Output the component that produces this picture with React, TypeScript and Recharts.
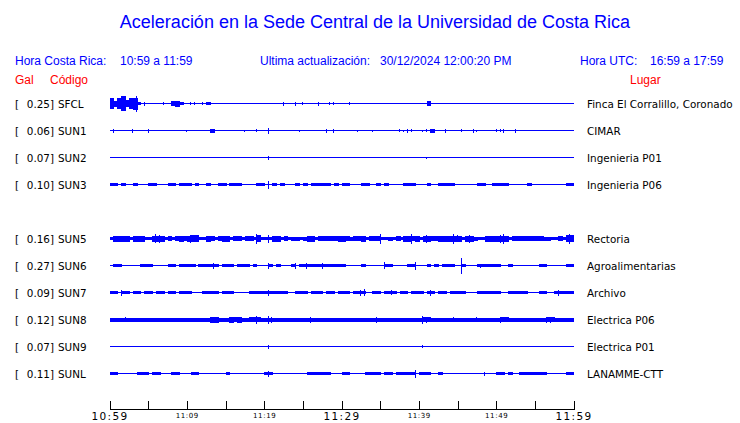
import { ComposedChart, Area, Bar, XAxis, YAxis } from 'recharts';

const BLUE = '#0000ff';
const RED = '#ff0000';

// station order, top to bottom; lane 4 (SUN4) is empty in this picture
const STATIONS = ['SFCL', 'SUN1', 'SUN2', 'SUN3', 'SUN5', 'SUN6', 'SUN7', 'SUN8', 'SUN9', 'SUNL'];
const LANES = [0, 1, 2, 3, 5, 6, 7, 8, 9, 10];
const PEAK_GAL = ['0.25', '0.06', '0.07', '0.10', '0.16', '0.27', '0.09', '0.12', '0.07', '0.11'];
const PLACES = [
  'Finca El Corralillo, Coronado', 'CIMAR', 'Ingenieria P01', 'Ingenieria P06', 'Rectoria',
  'Agroalimentarias', 'Archivo', 'Electrica P06', 'Electrica P01', 'LANAMME-CTT',
];

// minutes after 10:59
const TIME_TICKS = [0, 5, 10, 15, 20, 25, 30, 35, 40, 45, 50, 55, 60];
const TICK_LABELS = ['10:59', '', '11:09', '', '11:19', '', '11:29', '', '11:39', '', '11:49', '', '11:59'];
const BIG_LABELS = ['10:59', '11:29', '11:59'];

// envelope half-amplitude per 30 s window (relative units, 27 = one lane)
const SFCL_ENV = [
  5, 2.5, 5, 7, 3, 5, 5.5, 1, 0, 0, 0, 0, 0, 0, 0, 0, 2, 2.5, 1, 0,
  0, 0, 0, 0, 0, 1, 0, 0, 0, 0, 0, 0, 0, 0, 0, 0, 0, 0, 0, 0,
  0, 0, 0, 0, 0, 0, 0, 0, 0, 0, 0, 0, 0, 0, 0, 0, 0, 0, 0, 0,
  0, 0, 0, 0, 0, 0, 0, 0, 0, 0, 0, 0, 0, 0, 0, 0, 0, 0, 0, 0,
  0, 0, 1.7, 0, 0, 0, 0, 0, 0, 0, 0, 0, 0, 0, 0, 0, 0, 0, 0, 0,
  0, 0, 0, 0, 0, 0, 0, 0, 0, 0, 0, 0, 0, 0, 0, 0, 0, 0, 0, 0,
];
const SUN1_ENV = [
  0, 0, 0, 0, 0, 0, 0, 0, 0, 0, 0, 0, 0, 0, 0, 0, 0, 0, 0, 0,
  0, 0, 0, 0, 0, 0, 1.5, 0, 0, 0, 0, 0, 0, 0, 0, 0, 0, 0, 0, 0,
  0, 0, 0, 0, 0, 0, 0, 0, 0, 0, 0, 0, 0, 0, 0, 0, 0, 0, 0, 0,
  0, 0, 0, 0, 0, 0, 0, 0, 0, 0, 0, 0, 0, 0, 0, 0, 0, 0, 0, 0,
  0, 0, 0, 1.5, 0, 0, 0, 0, 0, 0, 0, 0, 0, 0, 0, 0, 0, 0, 0, 0,
  0, 0, 0, 0, 0, 0, 0, 0, 0, 0, 0, 0, 0, 0, 0, 0, 0, 0, 0, 0,
];
const SUN2_ENV = [
  0, 0, 0, 0, 0, 0, 0, 0, 0, 0, 0, 0, 0, 0, 0, 0, 0, 0, 0, 0,
  0, 0, 0, 0, 0, 0, 0, 0, 0, 0, 0, 0, 0, 0, 0, 0, 0, 0, 0, 0,
  0, 0, 0, 0, 0, 0, 0, 0, 0, 0, 0, 0, 0, 0, 0, 0, 0, 0, 0, 0,
  0, 0, 0, 0, 0, 0, 0, 0, 0, 0, 0, 0, 0, 0, 0, 0, 0, 0, 0, 0,
  0, 0, 0, 0, 0, 0, 0, 0, 0, 0, 0, 0, 0, 0, 0, 0, 0, 0, 0, 0,
  0, 0, 0, 0, 0, 0, 0, 0, 0, 0, 0, 0, 0, 0, 0, 0, 0, 0, 0, 0,
];
const SUN3_ENV = [
  1, 1, 0.4, 1, 0.4, 0.4, 1, 0.4, 0, 0.4, 1, 1, 0.4, 0, 0.4, 1, 0.7, 0, 1, 1,
  1, 0.4, 1, 0.4, 0, 1, 0.4, 0.4, 1, 1, 0, 1, 1, 1, 0.4, 0, 0.4, 0, 1, 1,
  0, 0, 1, 0.4, 1, 0.4, 0, 0.4, 1, 0.4, 1, 0.4, 1, 1, 1, 1, 1, 0, 1, 0.4,
  1, 1, 0, 0.4, 0.4, 1, 1, 0.4, 0, 1, 0, 1, 0.4, 0, 0.4, 0, 1, 1, 1, 0,
  0.4, 0, 1, 0, 0.4, 1, 1, 1, 1, 0.4, 0.4, 0.4, 0.4, 0.4, 0, 1, 1, 0.4, 0.4, 1,
  1, 1, 1, 0.4, 0.4, 0, 0.4, 0, 1, 0, 0.4, 0, 0.4, 0, 0.4, 0.4, 0, 0.4, 1, 1,
];
const SUN5_ENV = [
  0.7, 2.5, 2.5, 2.5, 2.5, 0.7, 2.5, 2.5, 2.5, 0.7, 0.7, 2.5, 2.5, 2.5, 0.7, 2, 0.7, 2, 2.5, 2,
  2.5, 3, 3, 0.7, 0.7, 2.5, 2, 0.7, 2, 2.5, 2.5, 0.7, 2, 2, 0.7, 2, 2, 0.7, 3, 0.7,
  0.7, 0.7, 2.5, 2.5, 0.7, 2, 0.7, 1.5, 1.5, 0.7, 1.5, 2.5, 2.5, 0.7, 2, 2, 2, 2, 2, 2.5,
  2.5, 2, 1.5, 2, 2, 2.5, 0.7, 2, 2, 2, 0.7, 0.7, 1.5, 0.7, 2, 0.7, 2.5, 2.5, 2, 2.5,
  0.7, 2.5, 2.5, 2, 2, 2.5, 2.5, 2.5, 2.5, 2.5, 2.5, 0.7, 2.5, 2.5, 1.5, 0.7, 0.7, 2.5, 2.5, 2.5,
  2.5, 2.5, 2.5, 0.7, 2, 2, 2, 2, 2, 2, 2, 2, 1.5, 1.5, 0.7, 0.7, 2, 0.7, 3, 3,
];
const SUN6_ENV = [
  0, 1, 1, 0, 0.4, 0.4, 0, 0.4, 1, 1, 1, 0, 0.4, 0.4, 0, 1, 1, 0.4, 1, 1,
  1, 1, 0, 1, 1, 1, 1, 1, 0, 1, 1, 1, 0, 1, 1, 1, 0, 1, 0.4, 0.4,
  0, 1.3, 0, 1, 0.4, 0.4, 0, 1.3, 0, 1, 1, 1.3, 1, 1, 1.3, 1.3, 1.3, 1, 1, 1,
  1, 0.4, 0.4, 0, 0, 1, 0, 0, 0.4, 0, 0.4, 1.3, 1.3, 0.4, 0, 0.4, 0.4, 1, 1, 0.4,
  0, 0, 1, 0, 1, 0, 1, 1, 1, 0, 0, 0.7, 0, 0, 0, 1.3, 1.3, 1.3, 1.3, 1,
  1, 0, 0.4, 1, 0, 0.4, 0, 0.4, 0.4, 0.4, 0, 1, 1, 0.4, 0, 0.4, 0.4, 0, 1, 1,
];
const SUN7_ENV = [
  1, 1, 0, 1.3, 1.3, 0, 1, 1, 0, 1, 1, 0.4, 1, 1, 0, 1, 1, 0.4, 1, 1,
  1, 0.4, 0, 0.4, 1, 1, 1, 1, 0, 1.3, 1.3, 1.3, 0.4, 0.4, 0.4, 0, 1, 1, 1, 1,
  1.3, 1.3, 1, 1, 1, 1, 0, 0.4, 1, 1, 1, 0, 1, 1, 1, 0, 1, 1, 0, 1,
  1, 1, 0.4, 1, 1, 1, 0, 0, 1, 1, 0.4, 1, 1, 1, 0.4, 1, 1, 0.4, 1, 1,
  1, 0, 1, 1, 0.4, 1, 1, 0.4, 1, 1, 1, 1, 0.4, 0.4, 0.4, 1, 1, 1, 1, 1,
  1, 0.4, 0, 1, 1, 1, 1, 1, 0, 0.4, 0, 1, 1, 0.4, 0, 1, 1, 1, 1, 1,
];
const SUN8_ENV = [
  1.5, 1.5, 1.5, 1.5, 1.5, 1.5, 1.5, 1.5, 1.5, 1.5, 1.5, 1.5, 1.5, 1.5, 1.5, 1.5, 1.5, 1.5, 1.5, 1.5,
  1.5, 1.5, 1.5, 1.5, 1.5, 1.5, 2.5, 2.5, 1.5, 1.5, 1.5, 2.5, 2, 2.5, 1.5, 1.5, 2, 2, 2, 1.5,
  1.5, 1.5, 1.5, 1.5, 1.5, 1.5, 1.5, 1.5, 1.5, 1.5, 1.5, 1.5, 1.5, 1.5, 1.5, 1.5, 1.5, 1.5, 1.5, 1.5,
  1.5, 1.5, 1.5, 1.5, 1.5, 1.5, 1.5, 1.5, 1.5, 1.5, 1.5, 1.5, 1.5, 1.5, 1.5, 1.5, 1.5, 1.5, 1.5, 1.5,
  1.5, 2, 2, 1.5, 1.5, 1.5, 1.5, 1.5, 1.5, 1.5, 1.5, 1.5, 1.5, 1.5, 1.5, 1.5, 1.5, 1.5, 1.5, 1.5,
  1.5, 2, 2, 1.5, 1.5, 1.5, 1.5, 1.5, 1.5, 1.5, 1.5, 1.5, 1.5, 2, 2, 1.5, 1.5, 1.5, 1.5, 1.5,
];
const SUN9_ENV = [
  0, 0, 0, 0, 0, 0, 0, 0, 0, 0, 0, 0, 0, 0, 0, 0, 0, 0, 0, 0,
  0, 0, 0, 0, 0, 0, 0, 0, 0, 0, 0, 0, 0, 0, 0, 0, 0, 0, 0, 0,
  0, 0, 0, 0, 0, 0, 0, 0, 0, 0, 0, 0, 0, 0, 0, 0, 0, 0, 0, 0,
  0, 0, 0, 0, 0, 0, 0, 0, 0, 0, 0, 0, 0, 0, 0, 0, 0, 0, 0, 0,
  0, 0, 0, 0, 0, 0, 0, 0, 0, 0, 0, 0, 0, 0, 0, 0, 0, 0, 0, 0,
  0, 0, 0, 0, 0, 0, 0, 0, 0, 0, 0, 0, 0, 0, 0, 0, 0, 0, 0, 0,
];
const SUNL_ENV = [
  1, 1, 0, 0, 0.4, 0, 0.4, 1, 1, 1, 0.4, 1, 1, 0.4, 0, 0, 1, 1, 0.4, 0.4,
  0, 1, 1, 0, 0.4, 0.4, 0.4, 0.4, 0.4, 0, 1, 0, 0, 0.4, 0.4, 0, 0, 0.4, 0, 0.4,
  1, 1, 0.4, 0.4, 0.4, 0.4, 0, 0, 0.4, 0, 0, 1, 1, 1, 1, 1, 1, 0, 0, 0,
  1, 1, 0, 0.4, 0, 0.4, 1, 1, 1, 1, 0, 1, 1, 0, 1, 1, 1, 1, 1, 0,
  1, 1, 1, 0, 0, 1, 0.4, 0.4, 0.4, 0.4, 0, 0.4, 0.4, 0, 0.4, 0.4, 0, 0, 0.4, 0,
  1.3, 1.3, 0, 1, 0, 0.4, 1, 1, 1, 1, 1, 1, 1, 0, 0.4, 0, 0.4, 0, 1, 1,
];

// isolated spikes: [minute, half-amplitude]
const SFCL_SPIKES = [[3.5, 8], [4.5, 2], [7, 1.5], [10.5, 1.5], [11, 1.5], [12, 1.5], [22.5, 2], [24, 2], [25, 1.5], [27, 2], [28.5, 1.5], [29, 1.5], [31, 1.5]];
const SUN1_SPIKES = [[0.5, 2], [3, 2], [5, 2], [10, 1], [17.5, 1], [19, 1.5], [20.5, 3], [24.5, 1], [28, 2], [29, 2], [32, 1], [34, 1], [37.5, 1.5], [38, 1], [38.5, 2], [39, 1.5], [40.5, 1], [41, 1.5], [43.5, 2], [45.5, 1.5], [47, 2], [47.5, 1], [50, 1.5], [50.5, 1.5], [51, 2], [52.5, 2]];
const SUN2_SPIKES = [[20.5, 2], [41, 1]];
const SUN3_SPIKES = [[20.5, 4]];
const SUN5_SPIKES = [[4.5, 3], [6, 4.5], [6.5, 4], [10.5, 4], [11, 3.5], [19, 5], [20.5, 4], [26, 3], [35, 5], [39, 5], [41, 4], [44.5, 5], [45, 3.5], [46.5, 4], [50.5, 4], [51, 5], [59.5, 5]];
const SUN6_SPIKES = [[13.5, 3], [20.5, 3], [24, 3], [25.5, 3], [27.5, 3], [35.5, 3.5], [39.5, 4], [45.5, 8], [48, 2]];
const SUN7_SPIKES = [[1.5, 3], [20.5, 3], [32.5, 3], [33, 3.5], [36.5, 2.5], [41.5, 3], [58, 3]];
const SUN8_SPIKES = [[2, 2.5], [19, 4], [20.5, 4], [21, 3], [26, 3], [34.5, 3], [40.5, 4], [41, 3], [44.5, 2.5], [47.5, 2.5], [50.5, 3], [51, 2.5], [56.5, 3], [57, 3]];
const SUN9_SPIKES = [[20.5, 2], [40.5, 1.5]];
const SUNL_SPIKES = [[20.5, 3], [39.5, 4], [48.5, 2]];

const ENVELOPES = [SFCL_ENV, SUN1_ENV, SUN2_ENV, SUN3_ENV, SUN5_ENV, SUN6_ENV, SUN7_ENV, SUN8_ENV, SUN9_ENV, SUNL_ENV];
const SPIKES = [SFCL_SPIKES, SUN1_SPIKES, SUN2_SPIKES, SUN3_SPIKES, SUN5_SPIKES, SUN6_SPIKES, SUN7_SPIKES, SUN8_SPIKES, SUN9_SPIKES, SUNL_SPIKES];

const UNITS = 27;
const STEP = 0.5;

const rows: any[] = [];
for (let i = 0; i <= SFCL_ENV.length; i++) {
  const t = i * STEP;
  const row: any = { t };
  STATIONS.forEach((s, k) => {
    const base = -LANES[k];
    const env = ENVELOPES[k];
    const a = env[Math.min(i, env.length - 1)] / UNITS;
    row[s] = [base - a, base + a];
    const sp = SPIKES[k].find((p) => p[0] === t);
    const h = sp ? sp[1] / UNITS : 0;
    row[s + '_pk'] = [base - h, base + h];
  });
  rows.push(row);
}

const TimeTick = ({ x, y, payload }: any) => {
  const idx = TIME_TICKS.indexOf(payload.value);
  const label = TICK_LABELS[idx];
  const big = BIG_LABELS.includes(label);
  return (
    <g>
      <line x1={x} x2={x} y1={y - 9} y2={y} stroke="#000" />
      {label && (
        <text
          x={x}
          y={big ? y + 10.5 : y + 8}
          textAnchor="middle"
          fontFamily="DejaVu Sans"
          fontSize={big ? 10.5 : 7}
          letterSpacing={big ? 1.3 : 0.6}
          fill="#000"
        >
          {label}
        </text>
      )}
    </g>
  );
};

const StationTick = ({ y, payload }: any) => {
  const k = LANES.indexOf(-payload.value);
  if (k < 0) return null;
  return (
    <g fontFamily="DejaVu Sans" fontSize={10.4} fill="#000">
      <text x={15} y={y + 4}>[</text>
      <text x={54} y={y + 4} textAnchor="end">{PEAK_GAL[k]}]</text>
      <text x={58} y={y + 4}>{STATIONS[k]}</text>
    </g>
  );
};

const PlaceTick = ({ y, payload }: any) => {
  const k = LANES.indexOf(-payload.value);
  if (k < 0) return null;
  return (
    <text x={587} y={y + 4} fontFamily="DejaVu Sans" fontSize={10.4} fill="#000">
      {PLACES[k]}
    </text>
  );
};

const LANE_TICKS = LANES.map((l) => -l);
const Y_DOMAIN = [-11.3333, 0.5];

export default function App() {
  return (
    <div style={{ position: 'absolute', left: 0, top: 0, width: 740, height: 423, background: '#fff', shapeRendering: 'crispEdges' }}>
      <ComposedChart width={740} height={423} data={rows} margin={{ top: 90, right: 0, bottom: 0, left: 0 }} barGap={-1}>
        <XAxis
          dataKey="t"
          type="number"
          domain={[0, 60]}
          ticks={TIME_TICKS}
          interval={0}
          height={13.5}
          tickSize={0}
          tickMargin={0}
          axisLine={{ stroke: '#000' }}
          tick={<TimeTick />}
        />
        <YAxis
          yAxisId="left"
          type="number"
          domain={Y_DOMAIN}
          allowDataOverflow
          ticks={LANE_TICKS}
          interval={0}
          width={110}
          axisLine={false}
          tickLine={false}
          tick={<StationTick />}
        />
        <YAxis
          yAxisId="right"
          orientation="right"
          type="number"
          domain={Y_DOMAIN}
          allowDataOverflow
          ticks={LANE_TICKS}
          interval={0}
          width={166}
          axisLine={false}
          tickLine={false}
          tick={<PlaceTick />}
        />
        {STATIONS.map((s) => (
          <Area
            key={s}
            yAxisId="left"
            dataKey={s}
            type="stepAfter"
            stroke={BLUE}
            strokeWidth={1}
            fill={BLUE}
            fillOpacity={1}
            dot={false}
            activeDot={false}
            isAnimationActive={false}
          />
        ))}
        {STATIONS.map((s) => (
          <Bar
            key={s + '_pk'}
            yAxisId="left"
            dataKey={s + '_pk'}
            barSize={1}
            fill={BLUE}
            isAnimationActive={false}
          />
        ))}
      </ComposedChart>
      <svg width={740} height={423} style={{ position: 'absolute', left: 0, top: 0, pointerEvents: 'none' }}>
        <g fontFamily="Liberation Sans" fill={BLUE}>
          <text x={375} y={28} fontSize={18} textAnchor="middle">
            Aceleración en la Sede Central de la Universidad de Costa Rica
          </text>
          <g fontSize={12}>
            <text x={15} y={65}>Hora Costa Rica:</text>
            <text x={120} y={65}>10:59 a 11:59</text>
            <text x={260} y={65}>Ultima actualización:</text>
            <text x={380} y={65}>30/12/2024 12:00:20 PM</text>
            <text x={580} y={65}>Hora UTC:</text>
            <text x={650} y={65}>16:59 a 17:59</text>
          </g>
        </g>
        <g fontFamily="Liberation Sans" fill={RED} fontSize={12}>
          <text x={15} y={84}>Gal</text>
          <text x={50} y={84}>Código</text>
          <text x={630} y={84}>Lugar</text>
        </g>
      </svg>
    </div>
  );
}
